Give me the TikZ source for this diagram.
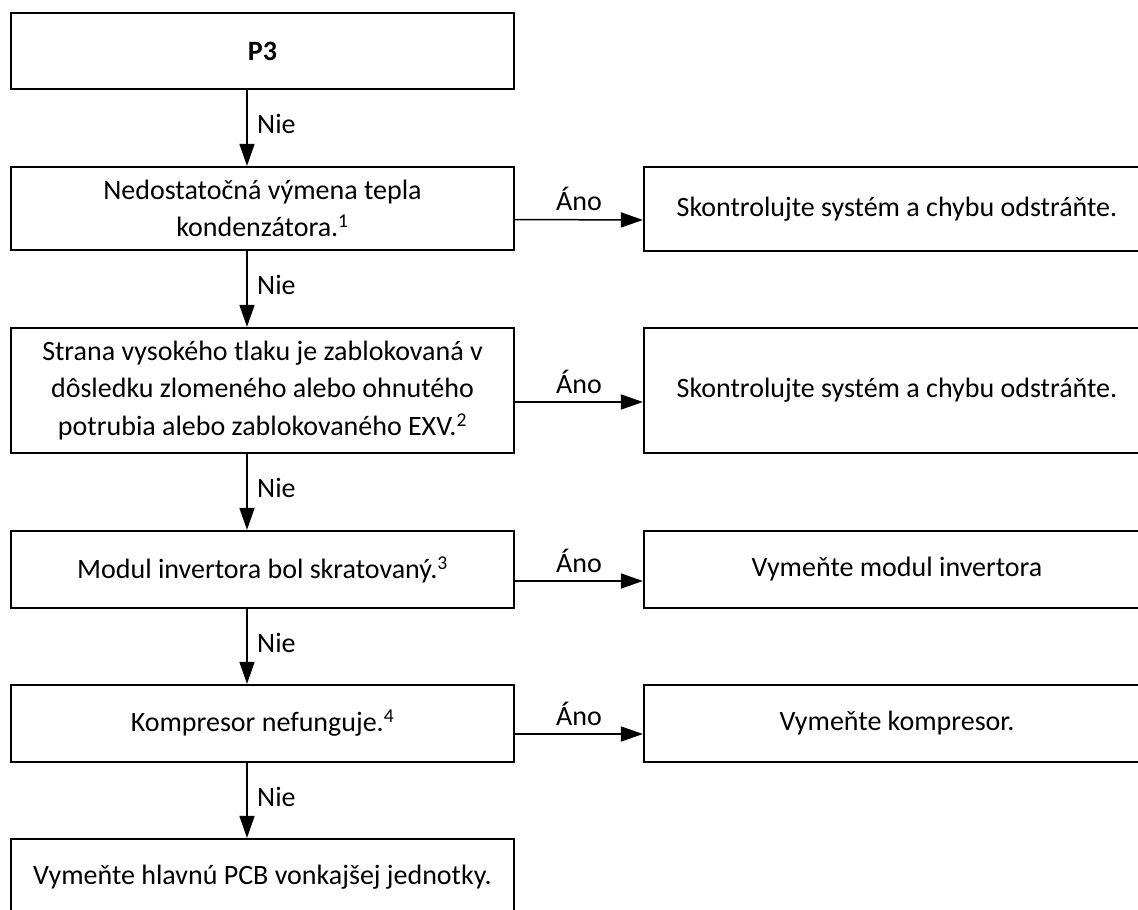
\documentclass[tikz,border=0pt]{standalone}
\usepackage{fontspec}
\setmainfont{Carlito}
\usetikzlibrary{arrows.meta,calc}
\begin{document}
\begin{tikzpicture}[x=1pt,y=-1pt,
  box/.style={draw,line width=2.2pt,rectangle,inner sep=0pt,align=center,
    font=\fontsize{28}{37.5}\selectfont},
  arr/.style={line width=1.5pt,-{Triangle[length=22pt,width=15pt]}},
  lab/.style={font=\fontsize{28}{30}\selectfont,inner sep=0pt}]
\clip (0,0) rectangle (1138,910);
\useasboundingbox (0,0) rectangle (1138,910);
% left column
\node[box,minimum width=503pt,minimum height=76pt] (b1) at (262.5,51) {\textbf{P3}};
\node[box,minimum width=503pt,minimum height=83pt] (b2) at (262.5,208.5) {Nedostatočná výmena tepla\\kondenzátora.\textsuperscript{1}};
\node[box,minimum width=503pt,minimum height=125pt] (b3) at (262.5,390.5) {Strana vysokého tlaku je zablokovaná v\\dôsledku zlomeného alebo ohnutého\\potrubia alebo zablokovaného EXV.\textsuperscript{2}};
\node[box,minimum width=503pt,minimum height=77pt] (b4) at (262.5,569.5) {Modul invertora bol skratovaný.\textsuperscript{3}};
\node[box,minimum width=503pt,minimum height=77pt] (b5) at (262.5,723.5) {Kompresor nefunguje.\textsuperscript{4}};
\node[box,minimum width=503pt,minimum height=76pt] (b6) at (262.5,877) {Vymeňte hlavnú PCB vonkajšej jednotky.};
% right column
\node[box,minimum width=506pt,minimum height=84pt] (r1) at (897,209) {Skontrolujte systém a chybu odstráňte.};
\node[box,minimum width=506pt,minimum height=125pt] (r2) at (897,390.5) {Skontrolujte systém a chybu odstráňte.};
\node[box,minimum width=506pt,minimum height=77pt] (r3) at (897,569.5) {Vymeňte modul invertora};
\node[box,minimum width=506pt,minimum height=77pt] (r4) at (897,723.5) {Vymeňte kompresor.};
% vertical arrows (Nie)
\foreach \a/\b in {b1/b2,b2/b3,b3/b4,b4/b5,b5/b6}{
  \draw[arr] ([xshift=-15.5pt]\a.south) -- coordinate[midway] (m\a) ([xshift=-15.5pt]\b.north);
  \node[lab,anchor=west] at ([xshift=10pt,yshift=4pt]m\a) {Nie};
}
% horizontal arrows (Ano)
\foreach \a/\b/\s in {b2/r1/11,b3/r2/11.5,b4/r3/11.5,b5/r4/10.5}{
  \draw[arr] ([yshift=-\s pt]\a.east) -- coordinate[midway] (h\a) ([yshift=-\s pt]\b.west);
  \node[lab,anchor=base] at ([yshift=9pt]h\a) {Áno};
}
\end{tikzpicture}
\end{document}
